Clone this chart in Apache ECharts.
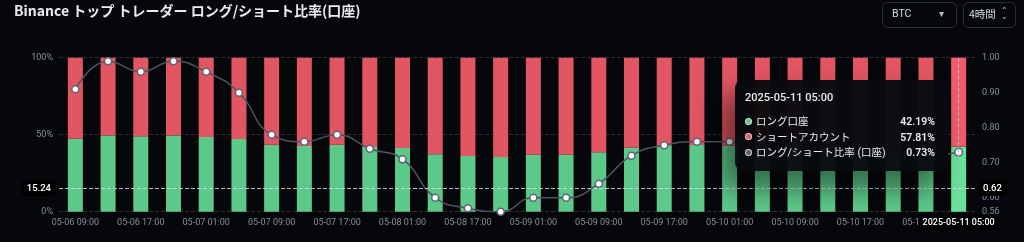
<!DOCTYPE html>
<html>
<head>
<meta charset="utf-8">
<script src="https://cdn.jsdelivr.net/npm/echarts@6/dist/echarts.min.js"></script>
<style>
html,body{margin:0;padding:0;background:#06070b;}
#chart{width:1024px;height:242px;}
</style>
</head>
<body>
<div id="chart"></div>
<script>
const categories = [
  '2025-05-06 09:00','2025-05-06 13:00','2025-05-06 17:00','2025-05-06 21:00',
  '2025-05-07 01:00','2025-05-07 05:00','2025-05-07 09:00','2025-05-07 13:00',
  '2025-05-07 17:00','2025-05-07 21:00','2025-05-08 01:00','2025-05-08 09:00',
  '2025-05-08 17:00','2025-05-08 21:00','2025-05-09 01:00','2025-05-09 05:00',
  '2025-05-09 09:00','2025-05-09 13:00','2025-05-09 17:00','2025-05-09 21:00',
  '2025-05-10 01:00','2025-05-10 05:00','2025-05-10 09:00','2025-05-10 13:00',
  '2025-05-10 17:00','2025-05-10 21:00','2025-05-11 01:00','2025-05-11 05:00'
];
const longPct = [47.4, 49.4, 49.0, 49.4, 48.5, 47.2, 43.5, 42.7, 43.5, 42.0, 41.4, 37.3, 36.2, 35.5,
  37.0, 37.0, 38.6, 41.6, 43.1, 43.3, 42.8, 43.2, 42.9, 42.6, 42.6, 42.3, 42.0, 42.19];
const shortPct = [52.6, 50.6, 51.0, 50.6, 51.5, 52.8, 56.5, 57.3, 56.5, 58.0, 58.6, 62.7, 63.8, 64.5,
  63.0, 63.0, 61.4, 58.4, 56.9, 56.7, 57.2, 56.8, 57.1, 57.4, 57.4, 57.7, 58.0, 57.81];
const ratio = [0.91, 0.99, 0.96, 0.99, 0.96, 0.90, 0.78, 0.76, 0.78, 0.74, 0.71, 0.60, 0.57, 0.56,
  0.60, 0.60, 0.64, 0.72, 0.75, 0.76, 0.76, 0.76, 0.75, 0.74, 0.74, 0.73, 0.72, 0.73];
const leftTicks = [0, 50, 100];
const rightTicks = [0.56, 0.6, 0.7, 0.8, 0.9, 1.0];

const FONT = 'Roboto, "Noto Sans CJK JP", sans-serif';
const GREEN = '#5cc98a', RED = '#e25563', GRAY = '#848e9c';

const chart = echarts.init(document.getElementById('chart'), null, {renderer: 'canvas'});

function dot(c) {
  return '<span style="display:inline-block;width:5px;height:5px;border-radius:50%;background:' + c +
    ';border:1.2px solid rgba(235,235,240,0.85);margin-right:4px;vertical-align:middle;position:relative;top:-1px"></span>';
}

const option = {
  backgroundColor: '#06070b',
  animation: false,
  textStyle: {fontFamily: FONT},
  title: {
    text: 'Binance トップ トレーダー ロング/ショート比率(口座)',
    left: 9, top: -1,
    textStyle: {color: '#eaecef', fontSize: 14, fontWeight: 'bold', fontFamily: '"Noto Sans CJK JP", Roboto, sans-serif'}
  },
  graphic: [
    {type: 'rect', left: 882, top: 2, shape: {width: 74, height: 25, r: 5}, style: {fill: 'transparent', stroke: '#2b2f36', lineWidth: 1}},
    {type: 'text', left: 892, top: 9, style: {text: 'BTC', fill: '#d8dce2', font: '10.5px Roboto'}},
    {type: 'text', left: 939, top: 9, style: {text: '▾', fill: '#b7bdc6', font: '10px "DejaVu Sans"'}},
    {type: 'rect', left: 963, top: 2, shape: {width: 52, height: 25, r: 5}, style: {fill: 'transparent', stroke: '#2b2f36', lineWidth: 1}},
    {type: 'text', left: 969, top: 9, style: {text: '4時間', fill: '#d8dce2', font: '10.5px "Noto Sans CJK JP"'}},
    {type: 'text', left: 1001, top: 7, style: {text: '⌃', fill: '#b7bdc6', font: '8px "DejaVu Sans"'}},
    {type: 'text', left: 1001, top: 13, style: {text: '⌄', fill: '#b7bdc6', font: '8px "DejaVu Sans"'}}
  ],
  grid: {left: 59, right: 49, top: 57.7, bottom: 30.3},
  tooltip: {
    trigger: 'axis',
    triggerOn: 'none',
    alwaysShowContent: true,
    transitionDuration: 0,
    position: [735, 80],
    backgroundColor: 'rgba(9,10,13,0.97)',
    borderWidth: 0,
    padding: [10, 13, 10, 10],
    extraCssText: 'border-radius:8px;box-shadow:-12px 16px 26px 2px rgba(0,0,0,0.45);',
    axisPointer: {
      type: 'cross',
      crossStyle: {color: 'rgba(220,220,225,0.6)', type: 'dashed', width: 1},
      label: {backgroundColor: '#000', color: '#fff', fontSize: 9.5, fontWeight: 500, padding: [3, 5], fontFamily: FONT}
    },
    formatter: function (params) {
      const i = params[0].dataIndex;
      const row = (c, name, val) => '<div style="display:flex;justify-content:space-between;height:15.7px;line-height:15.7px">' +
        '<span>' + dot(c) + name + '</span><span style="font-weight:600">' + val + '</span></div>';
      return '<div style="width:190px;font-family:Roboto,\'Noto Sans CJK JP\',sans-serif;color:#eaecef;font-size:10.5px">' +
        '<div style="height:16px;line-height:16px;font-size:11px;font-weight:500;margin-bottom:8px">' + categories[i] + '</div>' +
        row(GREEN, 'ロング口座', longPct[i].toFixed(2) + '%') +
        row(RED, 'ショートアカウント', shortPct[i].toFixed(2) + '%') +
        row('#5a606b', 'ロング/ショート比率 (口座)', ratio[i].toFixed(2) + '%') +
        '</div>';
    }
  },
  xAxis: {
    type: 'category',
    data: categories,
    boundaryGap: true,
    axisLine: {show: false},
    axisTick: {show: false},
    axisLabel: {
      color: GRAY, fontSize: 9, margin: 7, interval: 1, fontFamily: FONT,
      formatter: v => v.slice(5)
    },
    axisPointer: {
      label: {formatter: p => p.value, backgroundColor: '#000', color: '#fff', fontSize: 9, fontWeight: 500, padding: [3, 4], margin: 4}
    }
  },
  yAxis: [
    {
      type: 'value', min: 0, max: 100, interval: 50,
      axisLine: {show: false}, axisTick: {show: false},
      axisLabel: {color: GRAY, fontSize: 9, margin: 6, formatter: '{value}%', customValues: leftTicks, fontFamily: FONT},
      splitLine: {show: true, lineStyle: {color: '#2a2d33', type: 'dashed'}},
      axisPointer: {label: {formatter: p => p.value.toFixed(2)}}
    },
    {
      type: 'value', min: 0.56, max: 1.0, position: 'right',
      axisLine: {show: false}, axisTick: {show: false},
      axisLabel: {color: GRAY, fontSize: 9, margin: 7, formatter: v => v.toFixed(2), customValues: rightTicks, fontFamily: FONT},
      splitLine: {show: false},
      axisPointer: {label: {formatter: p => (Math.floor(p.value * 100) / 100).toFixed(2)}}
    }
  ],
  series: [
    {
      name: 'ロング口座', type: 'bar', stack: 'ls', data: longPct, barWidth: 15,
      itemStyle: {color: GREEN},
      emphasis: {itemStyle: {color: '#66e39b'}}
    },
    {
      name: 'ショートアカウント', type: 'bar', stack: 'ls', data: shortPct, barWidth: 15,
      itemStyle: {color: RED},
      emphasis: {itemStyle: {color: '#f25b6c'}}
    },
    {
      name: 'ロング/ショート比率 (口座)', type: 'line', yAxisIndex: 1, data: ratio, smooth: true,
      symbol: 'circle', symbolSize: 7, z: 5,
      lineStyle: {color: '#474d57', width: 1.5},
      itemStyle: {color: '#ffffff', borderColor: '#5f6570', borderWidth: 1.5}
    }
  ]
};
chart.setOption(option);
chart.dispatchAction({type: 'showTip', x: 958, y: 188.228});
</script>
</body>
</html>
